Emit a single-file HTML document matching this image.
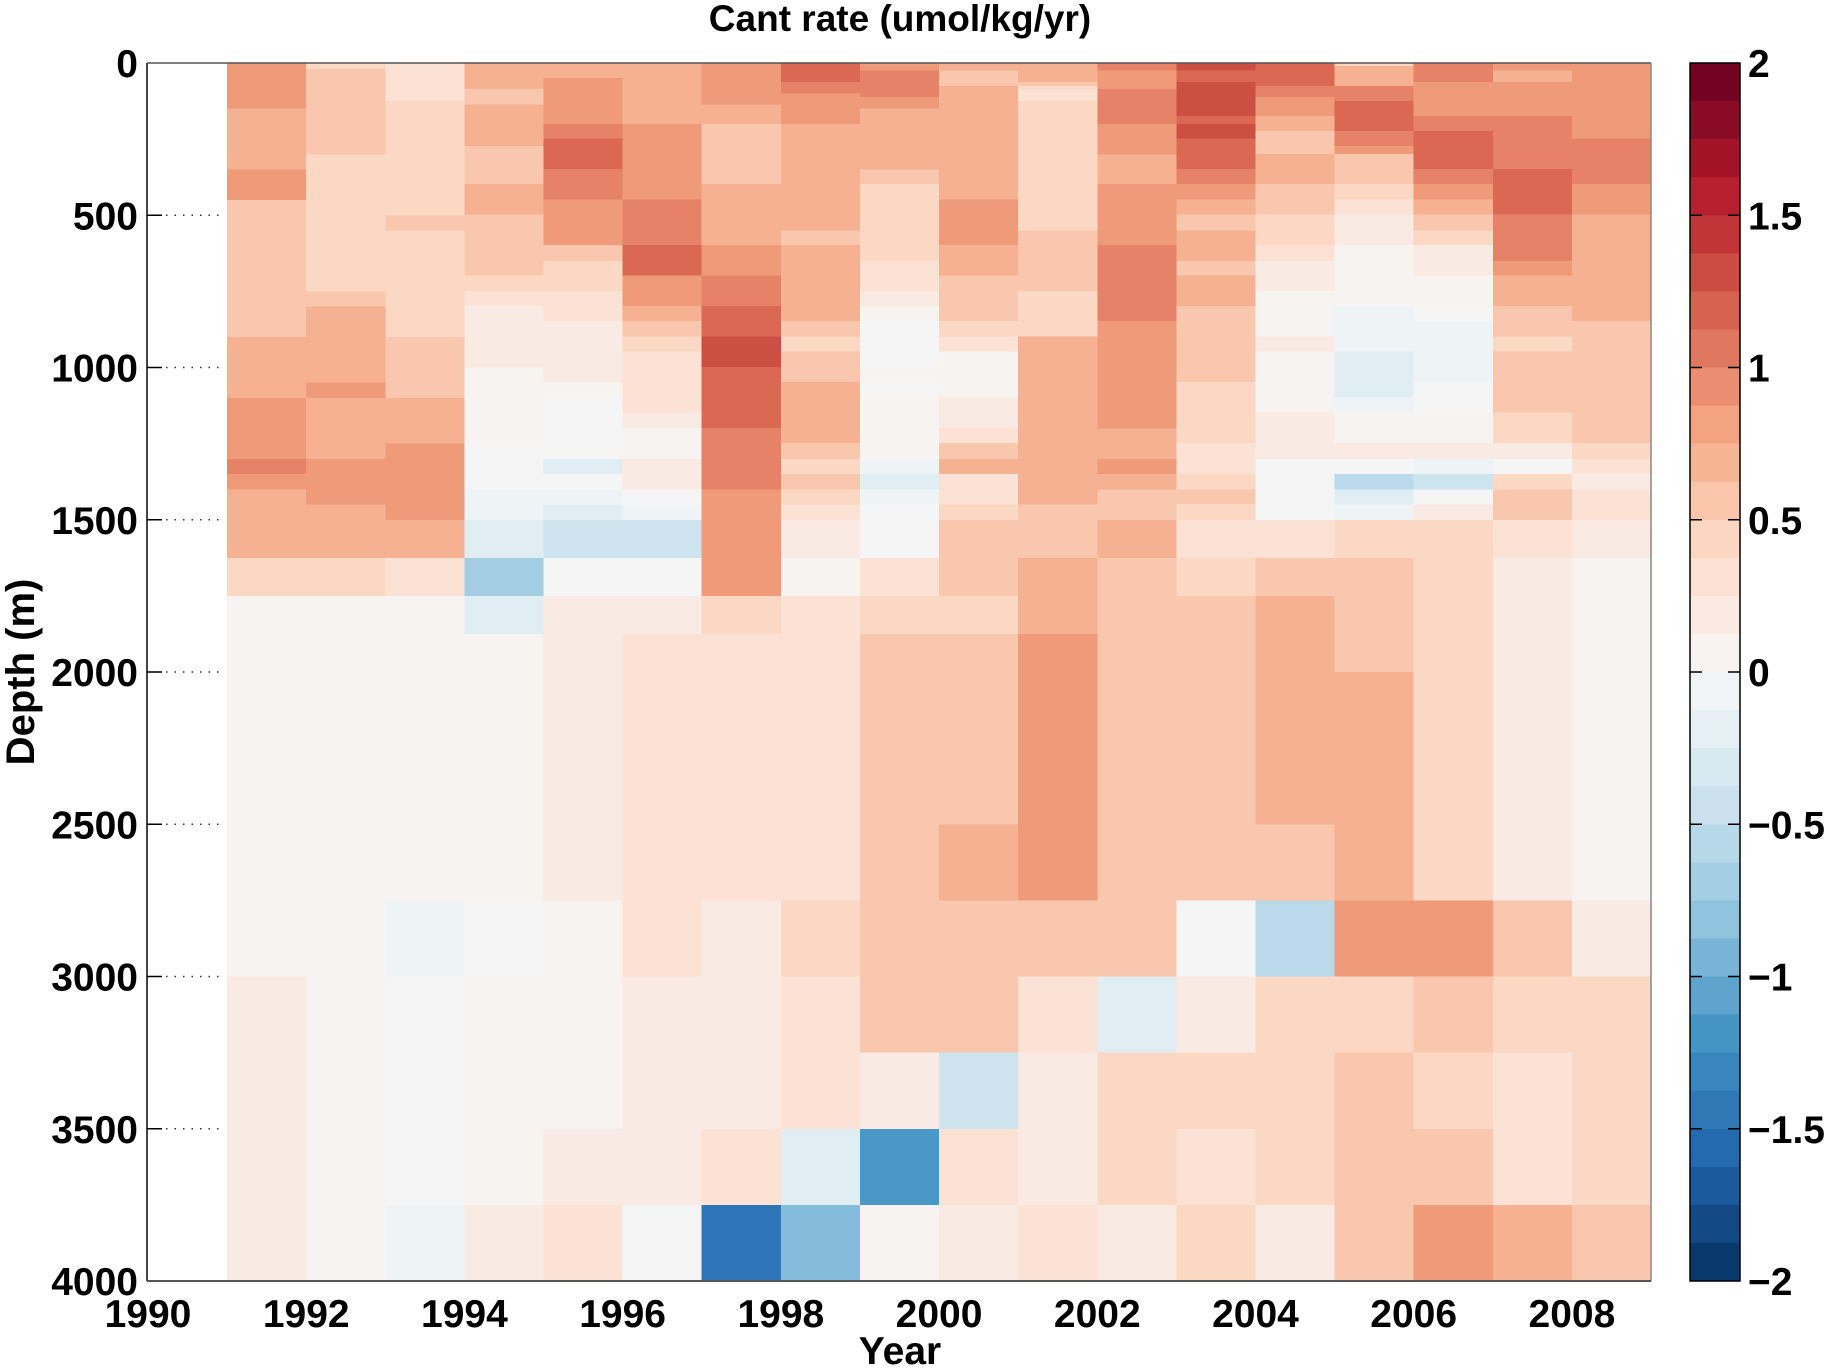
<!DOCTYPE html>
<html><head><meta charset="utf-8"><style>
html,body{margin:0;padding:0;background:#fff;}
svg{display:block;font-family:"Liberation Sans",Arial,sans-serif;font-weight:bold;}
</style></head><body>
<svg id="s" width="1826" height="1369" viewBox="0 0 1826 1369" xmlns="http://www.w3.org/2000/svg">
<rect width="1826" height="1369" fill="#fff"/>
<g id="cells" shape-rendering="crispEdges"></g>
<g id="axes"></g>
<text x="900" y="31" font-size="37" text-anchor="middle">Cant rate (umol/kg/yr)</text>
<text x="900" y="1364" font-size="39" text-anchor="middle">Year</text>
<text transform="translate(34,672) rotate(-90)" font-size="40" text-anchor="middle">Depth (m)</text>
</svg>
<script>
var C={W:"#f5f5f5",W0:"#f7f3f0",P1b:"#f9ebe4",P1:"#fbe2d5",P2:"#fbd8c4",P3:"#f8c7ad",P4:"#f5b191",P5:"#ef9b7a",P6:"#e58267",P7:"#da6853",P8:"#cc4f44",
B1:"#eef3f6",B2:"#e0edf3",B3:"#cde3ee",B4:"#bad9ea",B5:"#a3cde3",B6:"#86bcdb",B7:"#4a98c8",B8:"#2e76b8"};
var D={
1991:"150 P5,350 P4,450 P5,900 P3,1100 P4,1300 P5,1350 P6,1400 P5,1625 P4,1750 P2,3000 W0,4000 P1b",
1992:"20 P2,300 P3,750 P2,800 P3,1050 P4,1100 P5,1300 P4,1450 P5,1625 P4,1750 P2,4000 W0",
1993:"125 P1,500 P2,550 P3,900 P2,1100 P3,1250 P4,1500 P5,1625 P4,1750 P1,2750 W0,3000 B1,3750 W,4000 B1",
1994:"86 P4,137 P3,273 P4,397 P3,498 P4,698 P3,749 P2,798 P1,1000 P1b,1250 W0,1400 W,1500 B1,1625 B2,1750 B5,1875 B2,2750 W0,3000 W,3750 W0,4000 P1b",
1995:"49 P4,200 P5,248 P6,348 P7,448 P6,598 P5,650 P3,749 P2,848 P1,1048 P1b,1098 W0,1300 W,1350 B2,1400 W,1450 B1,1500 B2,1625 B3,1750 W,2750 P1b,3500 W0,3750 P1b,4000 P1",
1996:"200 P4,448 P5,598 P6,698 P7,798 P5,848 P4,898 P3,948 P2,1148 P1,1198 P1b,1300 W0,1400 P1b,1450 W,1500 B1,1625 B3,1750 W,1875 P1b,3000 P1,3750 P1b,4000 W",
1997:"137 P5,200 P4,397 P3,598 P4,698 P5,798 P6,898 P7,998 P8,1198 P7,1400 P6,1750 P5,1875 P2,2750 P1,3500 P1b,3750 P1,4000 B8",
1998:"63 P7,100 P6,200 P5,550 P4,598 P3,848 P4,898 P3,948 P2,1048 P3,1248 P4,1300 P3,1350 P2,1400 P3,1450 P2,1500 P1,1625 P1b,1750 W0,2750 P1,3000 P2,3500 P1,3750 B2,4000 B6",
1999:"25 P5,112 P6,150 P5,350 P4,397 P3,650 P2,750 P1,800 P1b,848 W0,998 W,1048 W0,1098 W,1300 W0,1350 B1,1400 B2,1450 B1,1625 W,1750 P1,1875 P2,3250 P3,3500 P1b,3750 B7,4000 W0",
2000:"25 P4,75 P3,448 P4,598 P5,698 P4,848 P3,898 P2,948 P1,1098 W0,1198 P1b,1248 P1,1300 P3,1350 P4,1450 P1,1500 P2,1750 P3,1875 P2,2500 P3,2750 P4,3250 P3,3500 B3,3750 P1,4000 P1b",
2001:"63 P4,76 P3,87 P2,125 P1,550 P2,749 P3,898 P2,1450 P4,1625 P3,1875 P4,2750 P5,3000 P3,3250 P1,3750 P1b,4000 P1",
2002:"25 P6,86 P5,200 P6,300 P5,397 P4,598 P5,848 P6,1200 P5,1300 P4,1350 P5,1400 P4,1500 P3,1625 P4,3000 P3,3250 B2,3750 P2,4000 P1b",
2003:"25 P8,63 P7,174 P8,200 P7,248 P8,348 P7,397 P6,448 P5,498 P4,550 P3,650 P4,698 P3,798 P4,1048 P3,1248 P2,1350 P1,1400 P2,1448 P3,1500 P2,1625 P1,1750 P2,2750 P3,3000 W,3250 P1b,3500 P2,3750 P1,4000 P2",
2004:"76 P7,112 P6,174 P5,224 P4,299 P3,397 P4,498 P3,598 P2,650 P1,749 P1b,899 W0,948 P1b,1148 W0,1300 P1b,1500 W,1625 P1,1750 P3,2500 P4,2750 P3,3000 B4,3750 P2,4000 P1b",
2005:"10 P2,76 P4,125 P6,224 P7,273 P6,299 P5,397 P3,448 P2,498 P1,598 P1b,798 W0,948 B1,1098 B2,1148 B1,1248 W0,1300 P1b,1350 W,1400 B4,1450 B2,1500 B1,1625 P2,2000 P3,2750 P4,3000 P5,3250 P2,4000 P3",
2006:"63 P6,174 P5,224 P6,348 P7,397 P6,448 P5,498 P4,550 P3,598 P2,698 P1b,798 W0,848 W,1048 B1,1148 W,1248 W0,1300 P1b,1350 B1,1400 B3,1450 W,1500 P1b,2750 P2,3000 P5,3250 P3,3500 P2,3750 P3,4000 P5",
2007:"25 P5,63 P4,174 P5,348 P6,498 P7,650 P6,698 P5,798 P4,899 P3,948 P2,1148 P3,1248 P2,1300 P1b,1350 W,1400 P2,1500 P3,1625 P1,2750 P1b,3000 P3,3250 P2,3750 P1,4000 P4",
2008:"248 P5,397 P6,498 P5,848 P4,1248 P3,1300 P2,1350 P1,1400 P1b,1500 P1,1625 P1b,2750 W0,3000 P1b,3750 P2,4000 P3"};
var NS="http://www.w3.org/2000/svg";
function el(t,a,p){var e=document.createElementNS(NS,t);for(var k in a)e.setAttribute(k,a[k]);p.appendChild(e);return e;}
var X0=148,XS=79.105,Y0=63,YS=1218/4000;
var g=document.getElementById("cells");
for(var y in D){var x0=X0+(y-1990)*XS,x1=X0+(y-1989)*XS,prev=0;
D[y].split(",").forEach(function(s){var p=s.split(" "),d=+p[0];
var ya=Y0+prev*YS,yb=Y0+d*YS;
el("rect",{x:x0.toFixed(1),y:ya.toFixed(1),width:(x1-x0+0.6).toFixed(1),height:(yb-ya+0.6).toFixed(1),fill:C[p[1]]},g);prev=d;});}
var a=document.getElementById("axes");
// axes frame
el("line",{x1:147,y1:63,x2:1651,y2:63,stroke:"#555","stroke-width":1.5},a);
el("line",{x1:1651,y1:63,x2:1651,y2:1281,stroke:"#888","stroke-width":1.5},a);
el("line",{x1:147,y1:63,x2:147,y2:1281,stroke:"#444","stroke-width":2},a);
el("line",{x1:147,y1:1281,x2:1651,y2:1281,stroke:"#555","stroke-width":2},a);
for(var i=0;i<=8;i++){var d=i*500,yy=Y0+d*YS;
var t=el("text",{x:138,y:yy+14,"font-size":39,"text-anchor":"end"},a);t.textContent=d;
if(i>0&&i<8){el("line",{x1:147,y1:yy,x2:162,y2:yy,stroke:"#000","stroke-width":1.5},a);
el("line",{x1:166,y1:yy,x2:220,y2:yy,stroke:"#333","stroke-width":1.5,"stroke-dasharray":"1.5 7"},a);}}
for(var yr=1990;yr<=2008;yr+=2){var t=el("text",{x:X0+(yr-1990)*XS,y:1327,"font-size":39,"text-anchor":"middle"},a);t.textContent=yr;}
// colorbar
var st=["#67001f","#b2182b","#d6604d","#f4a582","#fddbc7","#f7f7f7","#d1e5f0","#92c5de","#4393c3","#2166ac","#053061"];
function hx(c){return[parseInt(c.substr(1,2),16),parseInt(c.substr(3,2),16),parseInt(c.substr(5,2),16)];}
function cm(t){var f=t*10,i=Math.min(9,Math.floor(f)),r=f-i,a1=hx(st[i]),b1=hx(st[i+1]);
return"rgb("+[0,1,2].map(function(k){return Math.round(a1[k]+(b1[k]-a1[k])*r);}).join(",")+")";}
var cb=el("g",{"shape-rendering":"crispEdges"},a),N=32,h=1218/N;
for(var k=0;k<N;k++){el("rect",{x:1690,y:(63+k*h).toFixed(2),width:50,height:(h+0.6).toFixed(2),fill:cm((k+0.5)/N)},cb);}
el("rect",{x:1690,y:63,width:50,height:1218,fill:"none",stroke:"#000","stroke-width":1.5},a);
var labs=["2","1.5","1","0.5","0","\u22120.5","\u22121","\u22121.5","\u22122"];
for(var j=0;j<9;j++){var yy=63+j*1218/8;
if(j>0&&j<8){el("line",{x1:1690,y1:yy,x2:1702,y2:yy,stroke:"#000","stroke-width":1.5},a);el("line",{x1:1728,y1:yy,x2:1740,y2:yy,stroke:"#000","stroke-width":1.5},a);}
var t=el("text",{x:1748,y:yy+14,"font-size":39},a);t.textContent=labs[j];}
</script>
</body></html>
